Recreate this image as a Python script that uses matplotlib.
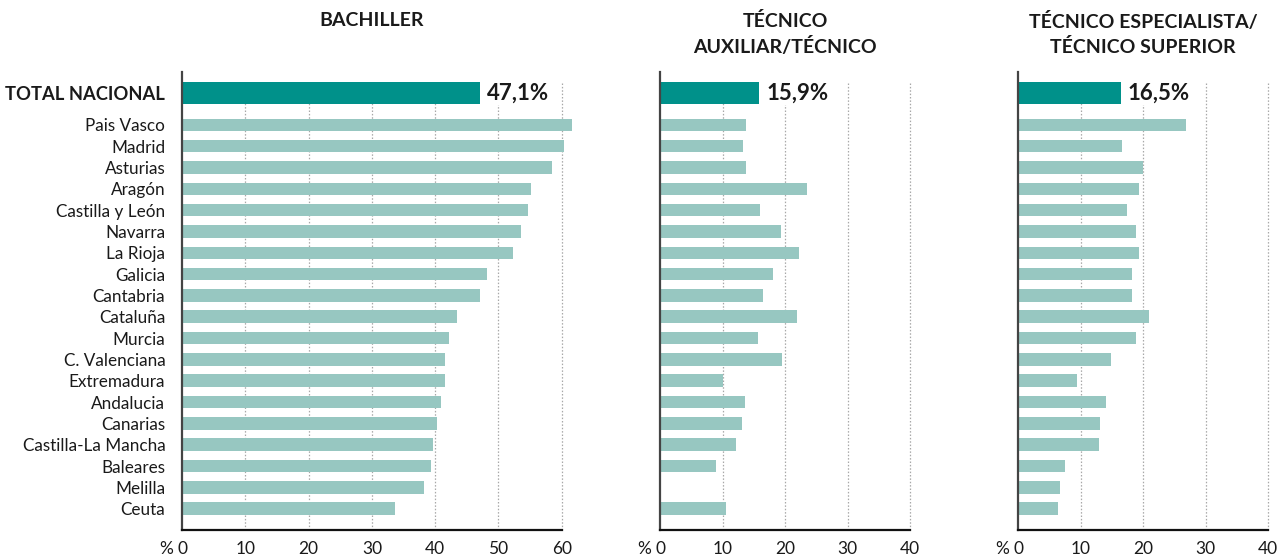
import matplotlib.pyplot as plt
import numpy as np

plt.rcParams["font.family"] = ["Lato", "DejaVu Sans"]

regions = ["Pais Vasco", "Madrid", "Asturias", "Aragón", "Castilla y León",
           "Navarra", "La Rioja", "Galicia", "Cantabria", "Cataluña", "Murcia",
           "C. Valenciana", "Extremadura", "Andalucia", "Canarias",
           "Castilla-La Mancha", "Baleares", "Melilla", "Ceuta"]

bachiller = [61.6, 60.3, 58.4, 55.2, 54.6, 53.6, 52.3, 48.2, 47.0, 43.4, 42.2,
             41.5, 41.5, 40.9, 40.3, 39.6, 39.3, 38.3, 33.6]
tecnico = [13.7, 13.2, 13.7, 23.5, 16.0, 19.4, 22.2, 18.1, 16.5, 21.9, 15.6,
           19.5, 10.1, 13.6, 13.1, 12.2, 8.9, np.nan, 10.6]
superior = [26.9, 16.6, 20.0, 19.4, 17.5, 18.9, 19.4, 18.3, 18.3, 20.9, 18.8,
            14.8, 9.4, 14.1, 13.1, 12.9, 7.5, 6.7, 6.4]

totals = [47.1, 15.9, 16.5]
total_label = "TOTAL NACIONAL"
titles = ["BACHILLER", "TÉCNICO\nAUXILIAR/TÉCNICO",
          "TÉCNICO ESPECIALISTA/\nTÉCNICO SUPERIOR"]
xticks = [[0, 10, 20, 30, 40, 50, 60], [0, 10, 20, 30, 40], [0, 10, 20, 30, 40]]

DARK = "#00918a"
LIGHT = "#97c7c1"
INK = "#1a1a1a"

W, H = 1286, 558
fig = plt.figure(figsize=(W / 100, H / 100), dpi=100)

# pixel layout: left edge, px per unit, xlim max, axis max
panels = [(182, 6.33, 62, 60), (660, 6.25, 40, 40), (1018, 6.25, 40, 40)]
top_px, bot_px = 72, 530
y = np.arange(len(regions))
y_total = -1.5
ytop, ybot = -2.48, 19.0

for i, (x0, ppu, xmax, amax) in enumerate(panels):
    ax = fig.add_axes([x0 / W, (H - bot_px) / H, xmax * ppu / W, (bot_px - top_px) / H])
    vals = [bachiller, tecnico, superior][i]
    ax.set_xlim(0, xmax)
    ax.set_ylim(ybot, ytop)

    # dotted grid lines, starting at the top of the total bar
    for t in xticks[i][1:]:
        ax.plot([t, t], [ybot, y_total - 0.5], color="#a8a8a8", ls=(0, (1.2, 1.5)),
                lw=0.9, zorder=0, clip_on=False)

    ax.barh(y, vals, height=0.59, color=LIGHT, zorder=2, clip_on=False)
    ax.barh([y_total], [totals[i]], height=1.03, color=DARK, zorder=2)
    ax.text(totals[i] + 1.1 * (6.25 / ppu), y_total, f"{totals[i]:.1f}%".replace(".", ","),
            ha="left", va="center", fontsize=16, fontweight="bold", color=INK,
            zorder=3, bbox=dict(facecolor="white", edgecolor="none", pad=1))

    for s in ["top", "right"]:
        ax.spines[s].set_visible(False)
    ax.spines["bottom"].set_bounds(0, amax)
    ax.spines["bottom"].set_linewidth(1.6)
    ax.spines["bottom"].set_color("#111111")
    ax.spines["left"].set_linewidth(1.6)
    ax.spines["left"].set_color("#444444")

    ax.set_xticks(xticks[i])
    ax.tick_params(axis="x", length=0, pad=8, labelsize=12.5, labelcolor=INK)
    ax.annotate("%", xy=(0, 0), xycoords=("data", "axes fraction"),
                xytext=(-6.5, -8), textcoords="offset points", ha="right", va="top",
                fontsize=12.5, color=INK)

    if i == 0:
        ax.set_yticks(list(y) + [y_total])
        ax.set_yticklabels(regions + [total_label])
        ax.tick_params(axis="y", length=0, pad=12, labelsize=12.3, labelcolor=INK)
        lab = ax.get_yticklabels()[-1]
        lab.set_fontweight("bold")
        lab.set_fontsize(13.2)
    else:
        ax.set_yticks([])

    # title centred over the drawn axis, top aligned with the figure
    cx = (x0 + amax * ppu / 2) / W
    fig.text(cx, 1 - 12 / H, titles[i], ha="center", va="top", fontsize=14,
             fontweight="bold", color=INK, linespacing=1.45)

fig.savefig("out.png", dpi=100)
